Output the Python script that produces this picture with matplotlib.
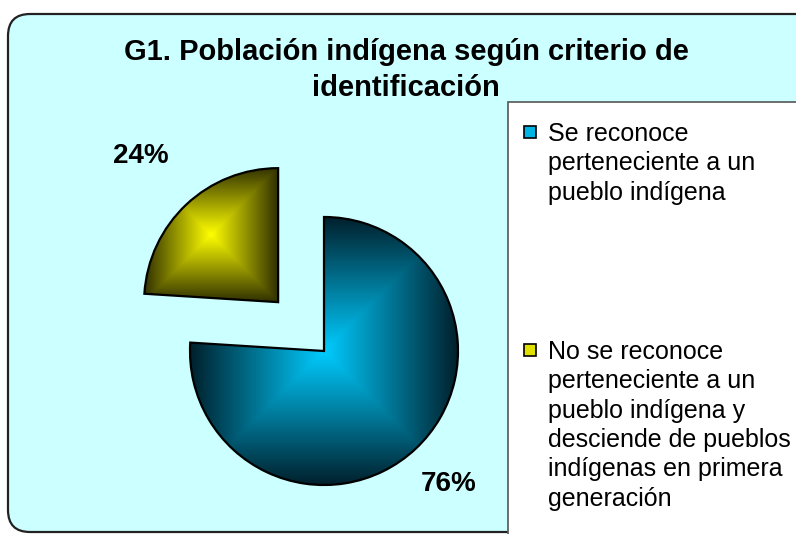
import numpy as np
import matplotlib
matplotlib.use('Agg')
import matplotlib.pyplot as plt
from matplotlib.patches import FancyBboxPatch, Rectangle
from matplotlib.transforms import IdentityTransform

plt.rcParams['font.family'] = ['Liberation Sans', 'DejaVu Sans']

# datos
titulo = 'G1. Población indígena según criterio de\nidentificación'
etiquetas = ['Se reconoce\nperteneciente a un\npueblo indígena',
             'No se reconoce\nperteneciente a un\npueblo indígena y\ndesciende de pueblos\nindígenas en primera\ngeneración']
valores = [76, 24]
explode = [0, 0.5]

# colores (centro, borde) del degradado
c_centro = [np.array([0, 204, 255]) / 255., np.array([255, 255, 0]) / 255.]
c_borde = [np.array([0, 32, 44]) / 255., np.array([48, 48, 0]) / 255.]
c_leyenda = ['#00B4E4', '#E0E000']
dist_pct = [1.36, 1.50]

W, H = 796, 534
fig = plt.figure(figsize=(W / 100, H / 100), dpi=100)

# fondo redondeado
fondo = FancyBboxPatch((8, 2), 820, 518, boxstyle='round,pad=0,rounding_size=22',
                       facecolor='#CCFFFF', edgecolor='#222222', linewidth=1.6,
                       transform=IdentityTransform(), zorder=-5)
fig.patches.append(fondo)

# caja de la leyenda
caja = Rectangle((508, -20), 400, 452, facecolor='white', edgecolor='#555555',
                 linewidth=1.2, transform=IdentityTransform(), zorder=1)
fig.patches.append(caja)

# ejes del pie: centro en (324,351) px, radio 134 px
R = 134.
cx, cy = 324., 351.
ax = fig.add_axes([(cx - 2 * R) / W, (H - cy - 2 * R) / H, 4 * R / W, 4 * R / H])
ax.set_facecolor('none')

wedges, _ = ax.pie(valores, explode=explode, startangle=90, counterclock=False,
                   radius=1, wedgeprops=dict(edgecolor='black', linewidth=1.6))

n = 400
u = np.linspace(-1, 1, n)
U, V = np.meshgrid(u, u)
t = np.maximum(np.abs(U), np.abs(V))[..., None]

for w, c0, c1, d, v in zip(wedges, c_centro, c_borde, dist_pct, valores):
    bb = w.get_path().get_extents()
    img = c0 * (1 - t) + c1 * t
    im = ax.imshow(img, extent=[bb.x0, bb.x1, bb.y0, bb.y1], origin='lower',
                   interpolation='bilinear', zorder=0)
    im.set_clip_path(w)
    w.set_facecolor('none')
    ang = np.deg2rad((w.theta1 + w.theta2) / 2)
    ax.text(w.center[0] + d * np.cos(ang), w.center[1] + d * np.sin(ang), '%d%%' % v,
            ha='center', va='center', fontsize=20, fontweight='bold', color='black')

ax.set_xlim(-2, 2)
ax.set_ylim(-2, 2)
ax.set_aspect('equal')
ax.axis('off')

# titulo
fig.text(406 / W, 1 - 70 / H, titulo, ha='center', va='center', fontsize=21,
         fontweight='bold', linespacing=1.32)

# leyenda
ley_y = [132, 350]
for lab, col, y in zip(etiquetas, c_leyenda, ley_y):
    fig.patches.append(Rectangle((524, H - y - 6), 12, 12, facecolor=col,
                                 edgecolor='black', linewidth=1.2,
                                 transform=IdentityTransform(), zorder=2))
    fig.text(548 / W, 1 - (y - 10) / H, lab, ha='left', va='top',
             fontsize=18, linespacing=1.28, zorder=3)

fig.savefig('out.png', dpi=100)
